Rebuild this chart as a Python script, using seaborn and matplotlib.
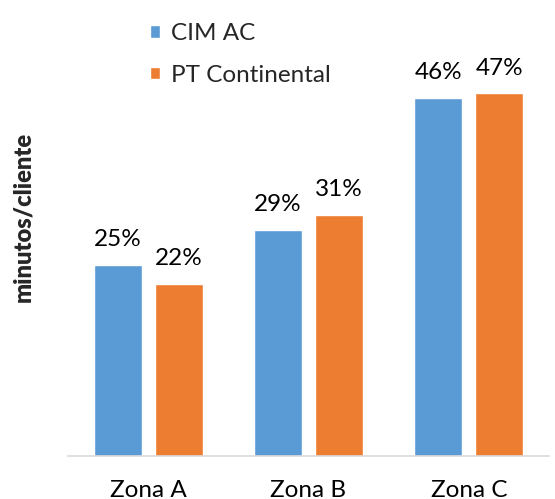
import matplotlib
matplotlib.use("Agg")
import matplotlib.pyplot as plt
import seaborn as sns
import pandas as pd

categories = ["Zona A", "Zona B", "Zona C"]
series_names = ["CIM AC", "PT Continental"]
cim_ac = [24.6, 29.1, 46.0]
pt_continental = [22.1, 31.0, 46.6]
colors = ["#5B9BD5", "#ED7D31"]

df = pd.DataFrame({
    "zona": categories * 2,
    "serie": [series_names[0]] * 3 + [series_names[1]] * 3,
    "valor": cim_ac + pt_continental,
})

sns.set_theme(style="white")
plt.rcParams["font.family"] = ["Lato", "DejaVu Sans"]

W, H = 555, 499
fig = plt.figure(figsize=(W / 100, H / 100), dpi=100)
ax = fig.add_axes([68 / W, (H - 456) / H, (549 - 68) / W, (456 - 10) / H])

sns.barplot(data=df, x="zona", y="valor", hue="serie", palette=colors,
            width=0.76, gap=0.21, saturation=1, ax=ax, legend=True)

ax.set_xlim(-0.5, 2.5)
ax.set_ylim(0, 446 / 7.78)

for cont in ax.containers:
    for bar in cont:
        h = bar.get_height()
        ax.annotate(f"{h:.0f}%", (bar.get_x() + bar.get_width() / 2, h),
                    xytext=(0, 13.5), textcoords="offset points",
                    ha="center", va="baseline", fontsize=17.5, color="#000000")

for s in ["top", "right", "left"]:
    ax.spines[s].set_visible(False)
ax.spines["bottom"].set_color("#D9D9D9")
ax.spines["bottom"].set_linewidth(1.2)
ax.set_yticks([])
ax.tick_params(axis="x", length=0, labelsize=17.5, pad=17, colors="#000000")
ax.set_xlabel("")
ax.set_ylabel("minutos/cliente", fontsize=17, fontweight="heavy")
ax.yaxis.set_label_coords(-(68 - 34) / (549 - 68), (456 - 217) / (456 - 10))

handles, labels = ax.get_legend_handles_labels()
ax.legend(handles, labels, loc="upper left",
          bbox_to_anchor=(150 / W, 1 - 23 / H), bbox_transform=fig.transFigure,
          frameon=False, fontsize=17.5, handlelength=0.42, handleheight=0.42,
          handletextpad=0.45, labelspacing=0.85, borderpad=0, borderaxespad=0)

fig.savefig("out.png", dpi=100)
